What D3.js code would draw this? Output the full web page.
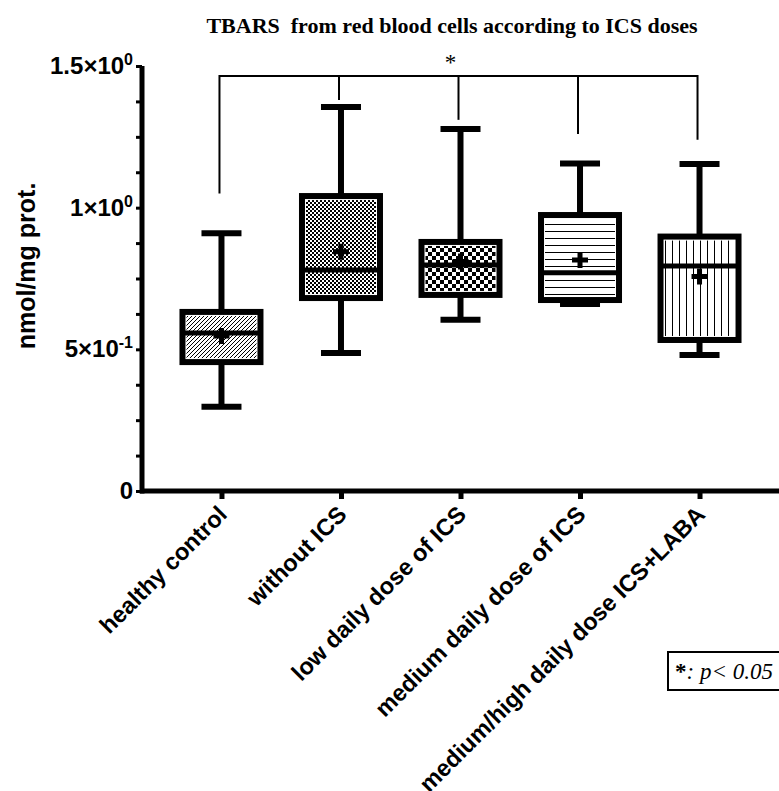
<!DOCTYPE html>
<html>
<head>
<meta charset="utf-8">
<script src="https://cdn.jsdelivr.net/npm/d3@7"></script>
<style>
  body { margin: 0; background: #fff; }
  svg { display: block; }
</style>
</head>
<body>
<svg width="779" height="791"></svg>
<script>
const categories = [
  "healthy control",
  "without ICS",
  "low daily dose of ICS",
  "medium daily dose of ICS",
  "medium/high daily dose ICS+LABA"
]
// box plot values, nmol/mg prot.
const whiskerLow = [0.297, 0.487, 0.604, 0.660, 0.480]
const q1 = [0.455, 0.681, 0.692, 0.674, 0.533]
const median = [0.558, 0.780, 0.798, 0.770, 0.794]
const q3 = [0.632, 1.041, 0.879, 0.974, 0.898]
const whiskerHigh = [0.910, 1.355, 1.278, 1.156, 1.154]
const means = [0.547, 0.844, 0.810, 0.815, 0.757]
const patterns = ["hatch", "fineCheck", "coarseCheck", "hLines", "vLines"]

const yTicks = [0, 0.5, 1, 1.5]
const yTickLabels = [["0", ""], ["5×10", "-1"], ["1×10", "0"], ["1.5×10", "0"]]
// bracket leg ends, as values above which the leg stops
const bracketLegEnd = [1.05, 1.38, 1.31, 1.26, 1.24]
const bracketValue = 1.465

const svg = d3.select("svg")

const y = d3.scaleLinear().domain([0, 1.5]).range([491, 66])
const x = d3.scalePoint().domain(categories).range([142, 779]).padding(0.665)

// patterns
const defs = svg.append("defs")
const hatch = defs.append("pattern").attr("id", "hatch")
  .attr("patternUnits", "userSpaceOnUse").attr("width", 4).attr("height", 4)
hatch.append("path").attr("d", "M-1,1 l2,-2 M0,4 l4,-4 M3,5 l2,-2")
  .attr("stroke", "#000").attr("stroke-width", 1)

const fine = defs.append("pattern").attr("id", "fineCheck")
  .attr("patternUnits", "userSpaceOnUse").attr("width", 4).attr("height", 4)
fine.append("rect").attr("width", 4).attr("height", 4).attr("fill", "#fff")
fine.append("rect").attr("width", 2).attr("height", 2).attr("fill", "#000")
fine.append("rect").attr("x", 2).attr("y", 2).attr("width", 2).attr("height", 2).attr("fill", "#000")

const coarse = defs.append("pattern").attr("id", "coarseCheck")
  .attr("patternUnits", "userSpaceOnUse").attr("width", 8).attr("height", 8)
coarse.append("rect").attr("width", 8).attr("height", 8).attr("fill", "#fff")
coarse.append("rect").attr("width", 4).attr("height", 4).attr("fill", "#000")
coarse.append("rect").attr("x", 4).attr("y", 4).attr("width", 4).attr("height", 4).attr("fill", "#000")

const hl = defs.append("pattern").attr("id", "hLines")
  .attr("patternUnits", "userSpaceOnUse").attr("width", 8).attr("height", 7)
hl.append("line").attr("x1", 0).attr("x2", 8).attr("y1", 0.5).attr("y2", 0.5)
  .attr("stroke", "#000").attr("stroke-width", 1)

const vl = defs.append("pattern").attr("id", "vLines")
  .attr("patternUnits", "userSpaceOnUse").attr("width", 7).attr("height", 8)
vl.append("line").attr("y1", 0).attr("y2", 8).attr("x1", 0.5).attr("x2", 0.5)
  .attr("stroke", "#000").attr("stroke-width", 1)

// title
svg.append("text")
  .attr("x", 452).attr("y", 33)
  .attr("text-anchor", "middle")
  .attr("font-family", "Liberation Serif, Times New Roman, serif")
  .attr("font-weight", "bold")
  .attr("font-size", 22)
  .attr("xml:space", "preserve")
  .text("TBARS  from red blood cells according to ICS doses")

// y axis
const yAxis = svg.append("g").attr("transform", "translate(142,0)")
  .call(d3.axisLeft(y).tickValues(d3.range(0, 1.5001, 0.125)).tickSize(6).tickFormat(""))
yAxis.select(".domain").attr("stroke-width", 5).attr("d", `M0,${y(0) + 2.5}V${y(1.5)}`)
yAxis.selectAll(".tick line").attr("stroke-width", 3)

const yLab = svg.append("g")
  .selectAll("text").data(yTicks).join("text")
  .attr("x", 133).attr("y", (d) => y(d) + 8)
  .attr("text-anchor", "end")
  .attr("font-family", "Liberation Sans, Arial, sans-serif")
  .attr("font-weight", "bold")
  .attr("font-size", 24)
yLab.append("tspan").text((d, i) => yTickLabels[i][0])
yLab.append("tspan").attr("dy", -9).attr("font-size", 16).text((d, i) => yTickLabels[i][1])

svg.append("text")
  .attr("transform", "translate(35,266) rotate(-90)")
  .attr("text-anchor", "middle")
  .attr("font-family", "Liberation Sans, Arial, sans-serif")
  .attr("font-weight", "bold")
  .attr("font-size", 25)
  .text("nmol/mg prot.")

// x axis
const xAxis = svg.append("g").attr("transform", `translate(0,${y(0)})`)
  .call(d3.axisBottom(x).tickSize(8).tickFormat(""))
xAxis.select(".domain").attr("stroke-width", 5).attr("d", "M140,0H779")
xAxis.selectAll(".tick line").attr("stroke-width", 5)

svg.append("g").selectAll("text").data(categories).join("text")
  .attr("transform", (d) => `translate(${x(d) + 7},${y(0) + 25}) rotate(-45)`)
  .attr("text-anchor", "end")
  .attr("font-family", "Liberation Sans, Arial, sans-serif")
  .attr("font-weight", "bold")
  .attr("font-size", 23.5)
  .text((d) => d)

// boxes
const boxW = 78
const capW = 40
const g = svg.append("g")
categories.forEach((c, i) => {
  const cx = x(c)
  // whiskers
  g.append("line").attr("x1", cx).attr("x2", cx)
    .attr("y1", y(whiskerHigh[i])).attr("y2", y(whiskerLow[i]))
    .attr("stroke", "#000").attr("stroke-width", 6)
  g.append("line").attr("x1", cx - capW / 2).attr("x2", cx + capW / 2)
    .attr("y1", y(whiskerHigh[i])).attr("y2", y(whiskerHigh[i]))
    .attr("stroke", "#000").attr("stroke-width", 6)
  g.append("line").attr("x1", cx - capW / 2).attr("x2", cx + capW / 2)
    .attr("y1", y(whiskerLow[i])).attr("y2", y(whiskerLow[i]))
    .attr("stroke", "#000").attr("stroke-width", 6)
  // box
  g.append("rect").attr("x", cx - boxW / 2).attr("width", boxW)
    .attr("y", y(q3[i])).attr("height", y(q1[i]) - y(q3[i]))
    .attr("fill", "#fff")
  g.append("rect").attr("x", cx - boxW / 2 + 4).attr("width", boxW - 8)
    .attr("y", y(q3[i]) + 4).attr("height", y(q1[i]) - y(q3[i]) - 8)
    .attr("fill", `url(#${patterns[i]})`)
  g.append("rect").attr("x", cx - boxW / 2).attr("width", boxW)
    .attr("y", y(q3[i])).attr("height", y(q1[i]) - y(q3[i]))
    .attr("fill", "none").attr("stroke", "#000").attr("stroke-width", 6)
  g.append("line").attr("x1", cx - boxW / 2).attr("x2", cx + boxW / 2)
    .attr("y1", y(median[i])).attr("y2", y(median[i]))
    .attr("stroke", "#000").attr("stroke-width", 5)
  // mean marker
  g.append("path")
    .attr("d", `M${cx - 8},${y(means[i])}H${cx + 8}M${cx},${y(means[i]) - 8}V${y(means[i]) + 8}`)
    .attr("stroke", "#000").attr("stroke-width", 5)
})

// significance bracket
const bx = categories.map((c) => x(c) - 2)
const br = svg.append("g").attr("stroke", "#000").attr("stroke-width", 2).attr("fill", "none")
br.append("path").attr("d", `M${bx[0]},${y(bracketLegEnd[0])}V${y(bracketValue)}H${bx[4]}V${y(bracketLegEnd[4])}`)
br.selectAll("line").data([1, 2, 3]).join("line")
  .attr("x1", (i) => bx[i]).attr("x2", (i) => bx[i])
  .attr("y1", y(bracketValue)).attr("y2", (i) => y(bracketLegEnd[i]))
svg.append("text")
  .attr("x", (bx[0] + bx[4]) / 2 - 8).attr("y", 70)
  .attr("text-anchor", "middle")
  .attr("font-family", "Liberation Serif, Times New Roman, serif")
  .attr("font-size", 23)
  .text("*")

// p-value note
svg.append("rect").attr("x", 668).attr("y", 652).attr("width", 120).attr("height", 38)
  .attr("fill", "#fff").attr("stroke", "#000").attr("stroke-width", 2)
const note = svg.append("text").attr("x", 675).attr("y", 679)
  .attr("font-family", "Liberation Serif, Times New Roman, serif")
  .attr("font-size", 23)
note.append("tspan").attr("font-weight", "bold").text("*")
note.append("tspan").attr("font-style", "italic").text(": p< 0.05")
</script>
</body>
</html>
